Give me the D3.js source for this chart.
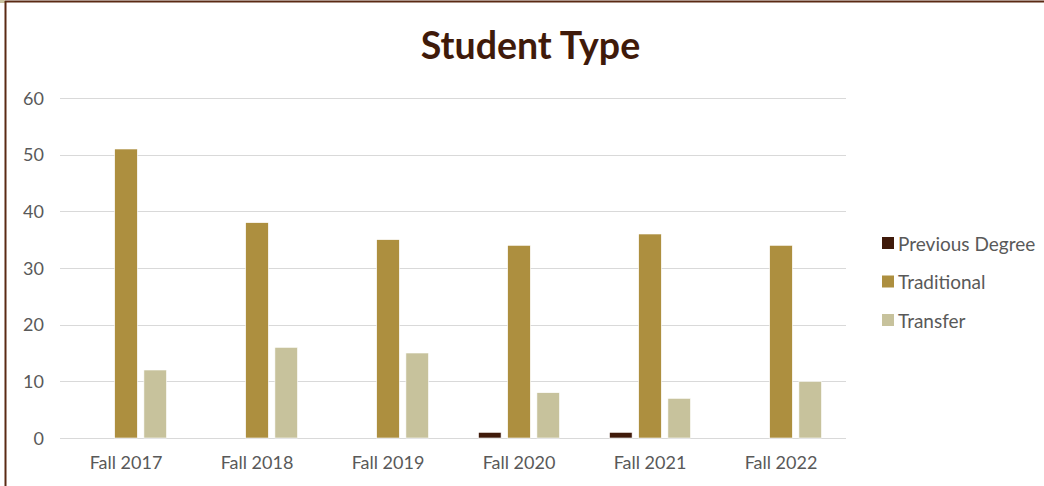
<!DOCTYPE html>
<html><head><meta charset="utf-8">
<script src="https://cdn.jsdelivr.net/npm/d3@7/dist/d3.min.js"></script>
<style>body{margin:0;background:#fff}svg{display:block}</style>
</head><body>
<svg id="c" width="1044" height="486"></svg>
<script>
const categories = ["Fall 2017","Fall 2018","Fall 2019","Fall 2020","Fall 2021","Fall 2022"];
const seriesNames = ["Previous Degree","Traditional","Transfer"];
const previousDegree = [0,0,0,1,1,0];
const traditional = [51,38,35,34,36,34];
const transfer = [12,16,15,8,7,10];
const yTicks = [0,10,20,30,40,50,60];
const colors = ["#3F1A0A","#AD8F3F","#C7C29C"];
const seriesValues = [previousDegree, traditional, transfer];

const svg = d3.select("#c");
const font = "Lato, 'Open Sans', sans-serif";

// frame
svg.append("rect").attr("x",0).attr("y",0).attr("width",5).attr("height",3).attr("fill","#C9C3A0");
svg.append("line").attr("x1",5.5).attr("x2",5.5).attr("y1",1).attr("y2",486).attr("stroke","#5A2A14").attr("stroke-width",2);
svg.append("line").attr("x1",5).attr("x2",1044).attr("y1",1.5).attr("y2",1.5).attr("stroke","#5A2A14").attr("stroke-width",2);

const x = d3.scaleBand().domain(categories).range([60.5, 846.5]);
const y = d3.scaleLinear().domain([0,60]).range([438, 98]);
const inner = d3.scaleBand().domain(seriesNames).range([0, 81]).paddingInner(0.226);

// gridlines
svg.append("g").selectAll("line").data(yTicks).join("line")
  .attr("x1",60).attr("x2",846).attr("y1",d=>Math.round(y(d))+0.5).attr("y2",d=>Math.round(y(d))+0.5)
  .attr("stroke","#D9D9D9").attr("stroke-width",1);

// y labels
const yAxis = d3.axisLeft(y).tickValues(yTicks).tickSize(0).tickPadding(0);
const gy = svg.append("g").attr("transform","translate(44,0)").call(yAxis);
gy.select(".domain").remove();
gy.selectAll("text").attr("font-family",font).attr("font-size",18).attr("fill","#595959").attr("dy","0.35em");

// x labels
const xAxis = d3.axisBottom(x).tickSize(0).tickPadding(0);
const gx = svg.append("g").attr("transform","translate(0,456)").call(xAxis);
gx.select(".domain").remove();
gx.selectAll("text").attr("font-family",font).attr("font-size",18).attr("fill","#595959").attr("dy","0.71em");

// bars
seriesNames.forEach((s,si)=>{
  svg.append("g").selectAll("rect").data(categories).join("rect")
    .attr("x",c=>x(c)+(x.bandwidth()-81)/2+inner(s))
    .attr("width",inner.bandwidth())
    .attr("y",(c,i)=>y(seriesValues[si][i]))
    .attr("height",(c,i)=>y(0)-y(seriesValues[si][i]))
    .attr("fill",colors[si])
    .attr("stroke","#fff").attr("stroke-width",0.6);
});

// title
svg.append("text").attr("x",530.5).attr("y",59).attr("text-anchor","middle")
  .attr("font-family",font).attr("font-weight","bold").attr("font-size",37.5)
  .attr("fill","#3F1A0A").text("Student Type");

// legend
const lg = svg.append("g");
seriesNames.forEach((s,i)=>{
  const cy = 243 + i*38.5;
  lg.append("rect").attr("x",882).attr("y",cy-6).attr("width",12).attr("height",12).attr("fill",colors[i]);
  lg.append("text").attr("x",898).attr("y",cy+1).attr("dy","0.35em")
    .attr("font-family",font).attr("font-size",19).attr("fill","#595959").text(s);
});
</script>
</body></html>
